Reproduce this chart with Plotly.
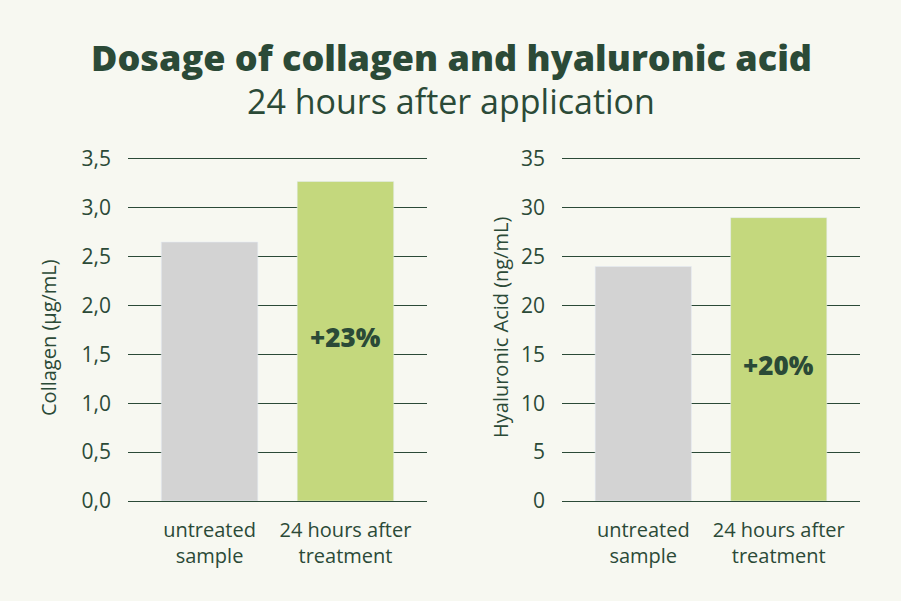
import plotly.graph_objects as go

categories = ["untreated<br>sample", "24 hours after<br>treatment"]
collagen = [2.65, 3.27]
hyaluronic = [24, 29]
collagen_increase = "+23%"
hyaluronic_increase = "+20%"
collagen_ticks = [0, 0.5, 1.0, 1.5, 2.0, 2.5, 3.0, 3.5]
hyaluronic_ticks = [0, 5, 10, 15, 20, 25, 30, 35]

BG = "#f7f8f1"
DARK = "#2b4a37"
GRAY = "#d3d3d3"
GREEN = "#c4d87d"
FONT = "Open Sans"

fig = go.Figure()
fig.add_trace(go.Bar(x=categories, y=collagen, marker_color=[GRAY, GREEN], width=0.71,
                     xaxis="x", yaxis="y", showlegend=False, hoverinfo="skip"))
fig.add_trace(go.Bar(x=categories, y=hyaluronic, marker_color=[GRAY, GREEN], width=0.71,
                     xaxis="x2", yaxis="y2", showlegend=False, hoverinfo="skip"))

ydom = [100/601, 442/601]
axis_font = dict(family=FONT, size=21, color=DARK)
common_y = dict(showgrid=True, gridcolor=DARK, gridwidth=1, zeroline=False, showline=False,
                ticks="", tickfont=axis_font, ticklabelstandoff=16, tickformat=".1f",
                automargin=False)
common_x = dict(showgrid=False, zeroline=False, showline=True, mirror=True, linecolor=DARK,
                linewidth=1, ticks="",
                tickfont=dict(family=FONT, size=20, color=DARK), range=[-0.6, 1.6],
                ticklabelstandoff=11, type="category", automargin=False)

fig.update_layout(
    width=901, height=601, autosize=False,
    paper_bgcolor=BG, plot_bgcolor=BG,
    margin=dict(l=0, r=0, t=0, b=0, pad=0),
    separators=",.",
    font=dict(family=FONT, color=DARK),
    xaxis=dict(domain=[128/901, 427/901], anchor="y", **common_x),
    xaxis2=dict(domain=[562/901, 860/901], anchor="y2", **common_x),
    yaxis=dict(domain=ydom, anchor="x", range=[0, 3.5], tickvals=collagen_ticks, **common_y),
    yaxis2=dict(domain=ydom, anchor="x2", range=[0, 35], tickvals=hyaluronic_ticks,
                **{**common_y, "tickformat": "d"}),
)

annotations = [
    dict(text="Dosage of collagen and hyaluronic acid",
         x=451/901, y=1-57/601, xref="paper", yref="paper",
         showarrow=False, font=dict(family=FONT, size=36, color=DARK, weight=800), xanchor="center", yanchor="middle"),
    dict(text="24 hours after application", x=451/901, y=1-101/601, xref="paper", yref="paper",
         showarrow=False, font=dict(family=FONT, size=34, color=DARK), xanchor="center", yanchor="middle"),
    dict(text="Collagen (µg/mL)", x=49/901, y=1-338/601, xref="paper", yref="paper", textangle=-90,
         showarrow=False, font=dict(family=FONT, size=20, color=DARK), xanchor="center", yanchor="middle"),
    dict(text="Hyaluronic Acid (ng/mL)", x=500/901, y=1-327/601, xref="paper", yref="paper", textangle=-90,
         showarrow=False, font=dict(family=FONT, size=20, color=DARK), xanchor="center", yanchor="middle"),
    dict(text=collagen_increase, x=categories[1], y=1.68, xref="x", yref="y", showarrow=False,
         font=dict(family=FONT, size=26, color=DARK, weight=800), xanchor="center", yanchor="middle"),
    dict(text=hyaluronic_increase, x=categories[1], y=13.9, xref="x2", yref="y2", showarrow=False,
         font=dict(family=FONT, size=26, color=DARK, weight=800), xanchor="center", yanchor="middle"),
]
fig.update_layout(annotations=annotations)

fig.write_html("out.html", config={"responsive": False, "displayModeBar": False},
               post_script="document.body.style.margin='0';")
